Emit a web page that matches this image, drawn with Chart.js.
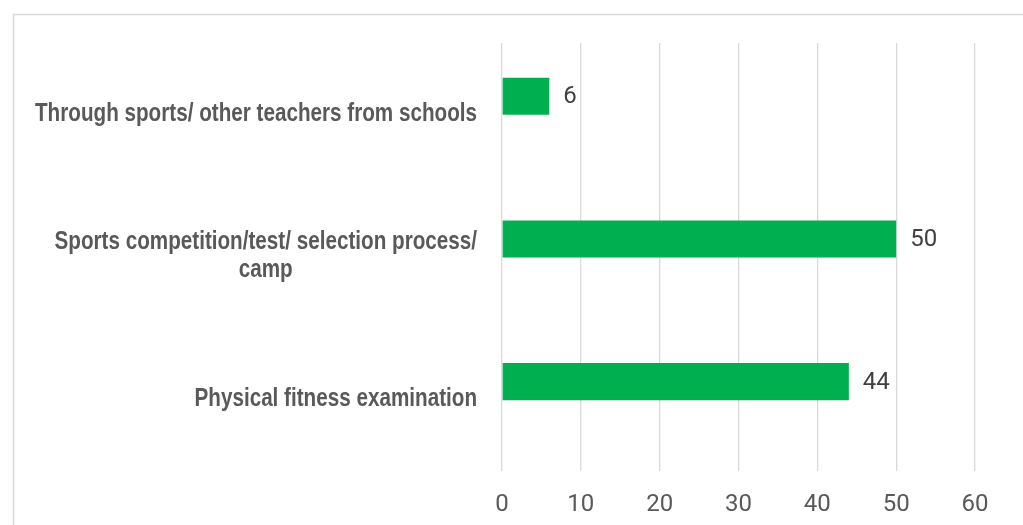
<!DOCTYPE html>
<html>
<head>
<meta charset="utf-8">
<script src="https://cdn.jsdelivr.net/npm/chart.js@4/dist/chart.umd.min.js"></script>
<style>
  html, body { margin: 0; padding: 0; background: #ffffff; }
  #wrap { width: 1023px; height: 525px; position: relative; }
</style>
</head>
<body>
<div id="wrap"><canvas id="c" width="1023" height="525"></canvas></div>
<script>
// Categories (top to bottom) and their counts
const categories = [
  "Through sports/ other teachers from schools",
  ["Sports competition/test/ selection process/", "camp"],
  "Physical fitness examination"
];
const counts = [6, 50, 44];
// Empty companion series: occupies the second slot of each category band
const companion = [null, null, null];
const xTicks = [0, 10, 20, 30, 40, 50, 60];

const labelFont = "bold 26px 'Liberation Sans', Arial, sans-serif";
const labelWidth = 442;   // narrow-bold look: the widest name is squeezed to this width
const numFont = { family: "Roboto, 'Open Sans', sans-serif", size: 24 };

// Light frame around the plot region
const framePlugin = {
  id: 'frame',
  beforeDraw(chart) {
    const ctx = chart.ctx;
    ctx.save();
    ctx.strokeStyle = '#d9d9d9';
    ctx.lineWidth = 1.5;
    ctx.strokeRect(13.5, 14.5, 1100, 600);
    ctx.restore();
  }
};

// Category names to the left of the bars and value labels after each bar
const labelsPlugin = {
  id: 'labels',
  afterDatasetsDraw(chart) {
    const ctx = chart.ctx;
    const yScale = chart.scales.y;
    ctx.save();
    ctx.font = labelFont;
    ctx.fillStyle = '#595959';
    ctx.textBaseline = 'middle';
    ctx.textAlign = 'center';
    const allLines = categories.flatMap(c => Array.isArray(c) ? c : [c]);
    const widest = Math.max(...allLines.map(l => ctx.measureText(l).width));
    const sx = labelWidth / widest;
    const rightEdge = 477;
    const lineH = 28;
    categories.forEach((cat, i) => {
      const lines = Array.isArray(cat) ? cat : [cat];
      const w = Math.max(...lines.map(l => ctx.measureText(l).width)) * sx;
      const cx = rightEdge - w / 2;
      const cy = yScale.getPixelForValue(i) - 1;
      const y0 = cy - (lines.length - 1) * lineH / 2;
      lines.forEach((l, k) => {
        ctx.save();
        ctx.translate(cx, y0 + k * lineH);
        ctx.scale(sx, 1);
        ctx.fillText(l, 0, 0);
        ctx.restore();
      });
    });
    // values after the bars
    ctx.font = numFont.size + 'px ' + numFont.family;
    ctx.fillStyle = '#404040';
    ctx.textAlign = 'left';
    const meta = chart.getDatasetMeta(0);
    meta.data.forEach((bar, i) => {
      ctx.fillText(String(counts[i]), bar.x + 14, bar.y + 1);
    });
    ctx.restore();
  }
};

new Chart(document.getElementById('c'), {
  type: 'bar',
  data: {
    labels: categories,
    datasets: [
      {
        data: counts,
        backgroundColor: '#00b050',
        borderWidth: 0,
        categoryPercentage: 0.505,
        barPercentage: 1.03
      },
      {
        data: companion,
        backgroundColor: '#00b050',
        borderWidth: 0,
        categoryPercentage: 0.505,
        barPercentage: 1.03
      }
    ]
  },
  options: {
    indexAxis: 'y',
    responsive: false,
    animation: false,
    layout: { padding: { left: 502, right: 48, top: 43, bottom: 0 } },
    plugins: { legend: { display: false }, tooltip: { enabled: false } },
    scales: {
      y: {
        display: false
      },
      x: {
        min: 0,
        max: 60,
        afterBuildTicks(scale) { scale.ticks = xTicks.map(v => ({ value: v })); },
        afterFit(scale) { scale.height = 54; },
        grid: { color: '#d9d9d9', lineWidth: 1.3, drawTicks: false },
        border: { display: false },
        ticks: { color: '#595959', font: numFont, padding: 20 }
      }
    }
  },
  plugins: [framePlugin, labelsPlugin]
});
</script>
</body>
</html>
